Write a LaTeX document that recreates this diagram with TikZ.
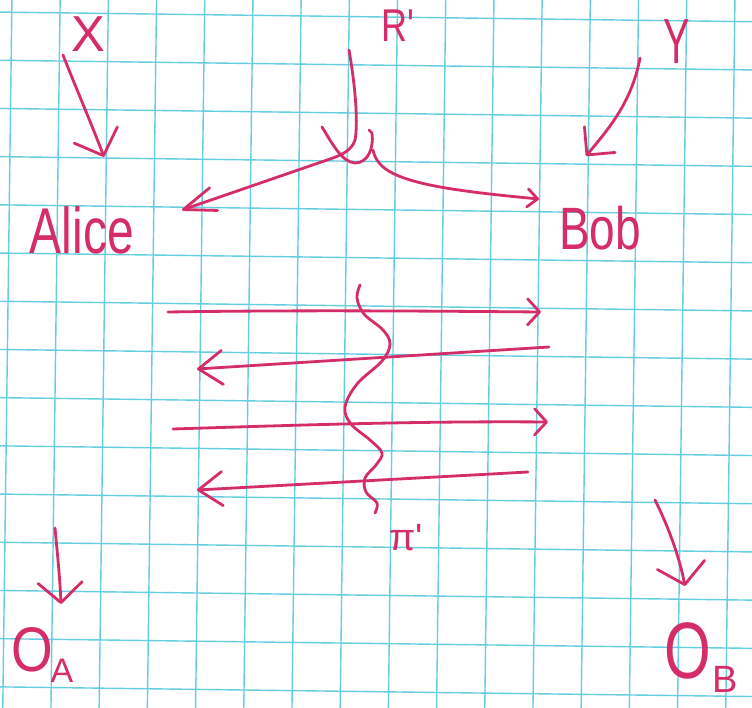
\documentclass[tikz,border=0pt]{standalone}
\usepackage{fontspec}
\setmainfont{Liberation Sans}
\usetikzlibrary{arrows.meta}
\definecolor{ink}{RGB}{212,45,105}
\definecolor{gridc}{RGB}{100,205,224}
\begin{document}
\begin{tikzpicture}[x=1pt,y=-1pt,
  pen/.style={draw=ink,line width=2.8pt,line cap=round,line join=round},
  barb/.style 2 args={-{Straight Barb[length=#1,width=#2,round]}},
  lbl/.style={text=ink,inner sep=0pt,anchor=center},
  gridline/.style={draw=gridc,line width=1.4pt}]
\useasboundingbox (0,0) rectangle (752,708);
\fill[white] (0,0) rectangle (752,708);
\begin{scope}
\clip (0,0) rectangle (752,708);
\foreach \a/\b in {12/2.7, 60.2/50.9, 108.4/99.1, 156.6/147.3, 204.8/195.5, 253/243.7, 301.2/291.9, 349.4/340.1, 397.6/388.3, 445.8/436.5, 494/484.7, 542.2/532.9, 590.4/581.1, 638.6/629.3, 686.8/677.5, 735/725.7}
  {\draw[gridline] (\a,-5) -- (\b,713);}
\foreach \a/\b in {12/21.8, 60.2/70, 108.4/118.2, 156.6/166.4, 204.8/214.6, 253/262.8, 301.2/311, 349.4/359.2, 397.6/407.4, 445.8/455.6, 494/503.8, 542.2/552, 590.4/600.2, 638.6/648.4, 686.8/696.6}
  {\draw[gridline] (-5,\a) -- (757,\b);}
\end{scope}

% labels
\node[lbl,font=\fontsize{44}{44}\selectfont,xscale=1.15,yscale=1.15] (x) at (88,34) {X};
\node[lbl,font=\fontsize{40}{40}\selectfont,xscale=0.9,yscale=1.15] (r) at (398,26) {R\textquotesingle};
\node[lbl,font=\fontsize{44}{44}\selectfont,xscale=0.9,yscale=1.45] (y) at (677,42) {Y};
\node[lbl,font=\fontsize{48}{48}\selectfont,yscale=1.35] (alice) at (82,230) {Alice};
\node[lbl,font=\fontsize{46}{46}\selectfont,yscale=1.3] (bob) at (600,228) {Bob};
\node[lbl,font=\fontsize{38}{38}\selectfont] (pi) at (406,538) {π\textquotesingle};
\node[lbl,font=\fontsize{63}{63}\selectfont,xscale=0.85] (oa) at (32,650) {O};
\node[lbl,font=\fontsize{34}{34}\selectfont] (oasub) at (62,671) {A};
\node[lbl,font=\fontsize{80}{80}\selectfont,xscale=0.75] (ob) at (688,651) {O};
\node[lbl,font=\fontsize{38}{38}\selectfont] (obsub) at (725,679) {B};

% connector end points
\coordinate (xs) at (63,55);   \coordinate (xe) at (104,157);
\coordinate (ys) at (640,58);  \coordinate (ye) at (586,156);
\coordinate (rs) at (349,50);  \coordinate (rj) at (355,140);
\coordinate (ae) at (182,210); \coordinate (be) at (539,199);
\coordinate (oas) at (55,528); \coordinate (oae) at (61,604);
\coordinate (obs) at (655,500);\coordinate (obe) at (685,586);
\coordinate (m1s) at (168,312); \coordinate (m1e) at (541,312);
\coordinate (m2s) at (549,347); \coordinate (m2e) at (197,369);
\coordinate (m3s) at (173,429); \coordinate (m3e) at (548,422);
\coordinate (m4s) at (528,472); \coordinate (m4e) at (197,490);

% input arrows
\draw[pen,barb={22pt}{46pt}] (xs) .. controls (76,88) and (92,125) .. (xe);
\draw[pen,barb={20pt}{40pt}] (ys) .. controls (632,100) and (612,125) .. (ye);

% shared randomness R'
\draw[pen,barb={32pt}{24pt}] (rs) .. controls (356,90) and (358,125) .. (rj)
   .. controls (352,150) and (342,155) .. (330,159) -- (ae);
\draw[pen] (322,127) .. controls (333,145) and (342,162) .. (355,163)
   .. controls (368,163) and (374,148) .. (372,133) -- (369,130);
\draw[pen,barb={10pt}{18pt}] (373,150) .. controls (378,178) and (420,188) .. (be);

% messages
\draw[pen,barb={12pt}{26pt}] (m1s) .. controls (300,310) and (420,311) .. (m1e);
\draw[pen,barb={24pt}{34pt}] (m2s) -- (m2e);
\draw[pen,barb={12pt}{26pt}] (m3s) .. controls (300,425) and (420,421) .. (m3e);
\draw[pen,barb={24pt}{34pt}] (m4s) -- (m4e);

% transcript pi'
\draw[pen] plot[smooth,tension=0.6] coordinates {(360,285) (357,298) (364,314) (383,330) (390,344) (382,361) (357,384) (345,407) (351,424) (370,440) (382,453) (376,465) (365,478) (366,492) (377,503) (375,513)};

% outputs
\draw[pen,barb={20pt}{44pt}] (oas) .. controls (58,560) and (60,580) .. (oae);
\draw[pen,barb={20pt}{48pt}] (obs) .. controls (670,530) and (680,560) .. (obe);
\end{tikzpicture}
\end{document}
